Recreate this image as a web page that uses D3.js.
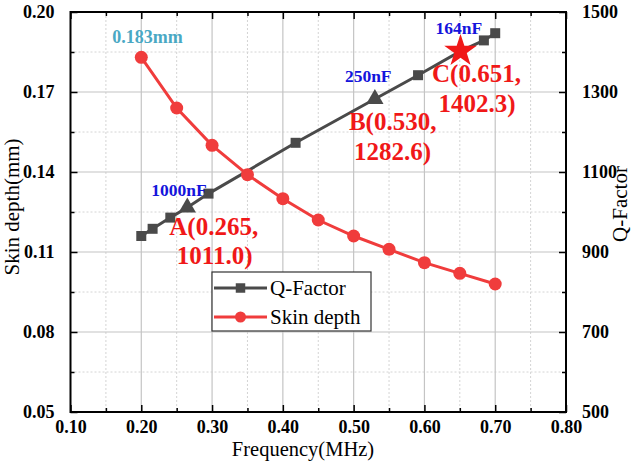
<!DOCTYPE html>
<html>
<head>
<meta charset="utf-8">
<script src="https://cdn.jsdelivr.net/npm/d3@7"></script>
<style>
  html, body { margin: 0; padding: 0; background: #fff; }
  svg { display: block; }
  text { font-family: "Liberation Serif", "Times New Roman", serif; }
</style>
</head>
<body>
<svg id="chart" width="633" height="467"></svg>
<script>
// ---- Data ----
const skinFreq = [0.20, 0.25, 0.30, 0.35, 0.40, 0.45, 0.50, 0.55, 0.60, 0.65, 0.70];
const skinDepth = [0.183, 0.164, 0.150, 0.139, 0.130, 0.122, 0.116, 0.111, 0.106, 0.102, 0.098];
const qFreq = [0.200, 0.216, 0.241, 0.265, 0.295, 0.418, 0.530, 0.591, 0.651, 0.684, 0.700];
const qFactor = [940, 958, 986, 1011.0, 1046, 1173, 1282.6, 1342, 1402.3, 1429, 1447];
const qMarker = ["square", "square", "square", "triangle", "square", "square", "triangle", "square", "star", "square", "square"];
const xTicks = [0.10, 0.20, 0.30, 0.40, 0.50, 0.60, 0.70, 0.80];
const yLeftTicks = [0.05, 0.08, 0.11, 0.14, 0.17, 0.20];
const yRightTicks = [500, 700, 900, 1100, 1300, 1500];
const seriesNames = ["Q-Factor", "Skin depth"];
const pointLabels = [
  { name: "A", x: 0.265, y: 1011.0, cap: "1000nF" },
  { name: "B", x: 0.530, y: 1282.6, cap: "250nF" },
  { name: "C", x: 0.651, y: 1402.3, cap: "164nF" }
];
const skinLabel = "0.183mm";

// ---- Layout ----
const L = 70.5, R = 566, T = 12, B = 412;
const svg = d3.select("#chart");
const x = d3.scaleLinear().domain([0.10, 0.80]).range([L, R]);
const yL = d3.scaleLinear().domain([0.05, 0.20]).range([B, T]);
const yR = d3.scaleLinear().domain([500, 1500]).range([B, T]);

const grayC = "#4a4a4a", redC = "#f03c3c";

// grid
const g = svg.append("g");
const xMinor = d3.range(0.15, 0.80, 0.1);
const yMinor = d3.range(0.065, 0.20, 0.03);
g.selectAll(".gxm").data(xMinor).join("line")
  .attr("x1", d => x(d)).attr("x2", d => x(d)).attr("y1", T).attr("y2", B)
  .attr("stroke", "#d4d4d4").attr("stroke-width", 1).attr("stroke-dasharray", "2,2");
g.selectAll(".gym").data(yMinor).join("line")
  .attr("y1", d => yL(d)).attr("y2", d => yL(d)).attr("x1", L).attr("x2", R)
  .attr("stroke", "#d4d4d4").attr("stroke-width", 1).attr("stroke-dasharray", "2,2");
g.selectAll(".gx").data(xTicks.slice(1, -1)).join("line")
  .attr("x1", d => x(d)).attr("x2", d => x(d)).attr("y1", T).attr("y2", B)
  .attr("stroke", "#c4c4c4").attr("stroke-width", 1.2);
g.selectAll(".gy").data(yLeftTicks.slice(1, -1)).join("line")
  .attr("y1", d => yL(d)).attr("y2", d => yL(d)).attr("x1", L).attr("x2", R)
  .attr("stroke", "#c4c4c4").attr("stroke-width", 1.2);

// axes (inward ticks)
const fmt2 = d3.format(".2f");
function styleAxis(sel) {
  sel.select(".domain").remove();
  sel.selectAll(".tick line").attr("stroke", "#000").attr("stroke-width", 1.5);
  sel.selectAll(".tick text").attr("font-family", "Liberation Serif, serif")
    .attr("font-weight", "bold").attr("font-size", 18).attr("fill", "#000");
}
svg.append("g").attr("transform", `translate(0,${B})`)
  .call(d3.axisBottom(x).tickValues(xTicks).tickFormat(fmt2).tickSizeInner(-7).tickSizeOuter(0).tickPadding(8))
  .call(styleAxis);
svg.append("g").attr("transform", `translate(0,${B})`)
  .call(d3.axisBottom(x).tickValues(xMinor).tickFormat("").tickSizeInner(-4).tickSizeOuter(0))
  .call(styleAxis);
svg.append("g").attr("transform", `translate(0,${T})`)
  .call(d3.axisTop(x).tickValues(xTicks).tickFormat("").tickSizeInner(-7).tickSizeOuter(0))
  .call(styleAxis);
svg.append("g").attr("transform", `translate(0,${T})`)
  .call(d3.axisTop(x).tickValues(xMinor).tickFormat("").tickSizeInner(-4).tickSizeOuter(0))
  .call(styleAxis);
svg.append("g").attr("transform", `translate(${L},0)`)
  .call(d3.axisLeft(yL).tickValues(yLeftTicks).tickFormat(fmt2).tickSizeInner(-7).tickSizeOuter(0).tickPadding(16))
  .call(styleAxis);
svg.append("g").attr("transform", `translate(${L},0)`)
  .call(d3.axisLeft(yL).tickValues(yMinor).tickFormat("").tickSizeInner(-4).tickSizeOuter(0))
  .call(styleAxis);
svg.append("g").attr("transform", `translate(${R},0)`)
  .call(d3.axisRight(yR).tickValues(yRightTicks).tickFormat(d3.format("d")).tickSizeInner(-7).tickSizeOuter(0).tickPadding(16))
  .call(styleAxis);
svg.append("g").attr("transform", `translate(${R},0)`)
  .call(d3.axisRight(yR).tickValues(d3.range(600, 1500, 200)).tickFormat("").tickSizeInner(-4).tickSizeOuter(0))
  .call(styleAxis);

// frame
svg.append("rect").attr("x", L).attr("y", T).attr("width", R - L).attr("height", B - T)
  .attr("fill", "none").attr("stroke", "#000").attr("stroke-width", 2);

// axis titles
svg.append("text").attr("x", 303).attr("y", 456).attr("text-anchor", "middle")
  .attr("font-size", 20.5).text("Frequency(MHz)");
svg.append("text").attr("transform", "translate(19,207) rotate(-90)").attr("text-anchor", "middle")
  .attr("font-size", 21).text("Skin depth(mm)");
svg.append("text").attr("transform", "translate(627,204) rotate(-90)").attr("text-anchor", "middle")
  .attr("font-size", 21).text("Q-Factor");

// Q-factor line
const qData = qFreq.map((f, i) => ({ f, q: qFactor[i], m: qMarker[i] }));
svg.append("path").datum(qData)
  .attr("d", d3.line().x(d => x(d.f)).y(d => yR(d.q)))
  .attr("fill", "none").attr("stroke", grayC).attr("stroke-width", 3);

// Skin depth line
const sData = skinFreq.map((f, i) => ({ f, s: skinDepth[i] }));
svg.append("path").datum(sData)
  .attr("d", d3.line().x(d => x(d.f)).y(d => yL(d.s)))
  .attr("fill", "none").attr("stroke", redC).attr("stroke-width", 3);
svg.selectAll(".sdot").data(sData).join("circle")
  .attr("cx", d => x(d.f)).attr("cy", d => yL(d.s)).attr("r", 6.5).attr("fill", redC);

// Q markers
const symMap = { square: d3.symbolSquare, triangle: d3.symbolTriangle, star: d3.symbolStar };
const sizeMap = { square: 100, triangle: 130, star: 330 };
svg.selectAll(".qm").data(qData).join("path")
  .attr("transform", d => `translate(${x(d.f)},${yR(d.q)})`)
  .attr("d", d => d3.symbol().type(symMap[d.m]).size(sizeMap[d.m])())
  .attr("fill", d => d.m === "star" ? "#f01818" : grayC);

// point labels
const fmtX = d3.format(".3f"), fmtY = d3.format(".1f");
const offs = [
  { cap: [-36, -11.5], l1: [-18, 27.5], l2: [-10.5, 56] },
  { cap: [-30, -17], l1: [-26, 31], l2: [-21, 61] },
  { cap: [-25, -17], l1: [-28.5, 30.5], l2: [-22, 60.5] }
];
pointLabels.forEach((p, i) => {
  const px = x(p.x), py = yR(p.y), o = offs[i];
  svg.append("text").attr("x", px + o.cap[0]).attr("y", py + o.cap[1])
    .attr("font-size", 17.5).attr("font-weight", "bold").attr("fill", "#1414dc").text(p.cap);
  svg.append("text").attr("x", px + o.l1[0]).attr("y", py + o.l1[1])
    .attr("font-size", 25).attr("font-weight", "bold").attr("fill", "#f01818")
    .text(`${p.name}(${fmtX(p.x)},`);
  svg.append("text").attr("x", px + o.l2[0]).attr("y", py + o.l2[1])
    .attr("font-size", 25).attr("font-weight", "bold").attr("fill", "#f01818")
    .text(`${fmtY(p.y)})`);
});
svg.append("text").attr("x", x(skinFreq[0]) - 29).attr("y", yL(skinDepth[0]) - 14)
  .attr("font-size", 18).attr("font-weight", "bold").attr("fill", "#4aa8c4").text(skinLabel);

// legend
const lg = svg.append("g");
lg.append("rect").attr("x", 212).attr("y", 272).attr("width", 159).attr("height", 59)
  .attr("fill", "#fff").attr("stroke", "#333").attr("stroke-width", 1.2);
const legendColors = [grayC, redC];
seriesNames.forEach((n, i) => {
  const yy = 288 + i * 29;
  lg.append("line").attr("x1", 214).attr("x2", 267).attr("y1", yy).attr("y2", yy)
    .attr("stroke", legendColors[i]).attr("stroke-width", 3);
  if (i === 0) {
    lg.append("path").attr("transform", `translate(240.5,${yy})`)
      .attr("d", d3.symbol().type(d3.symbolSquare).size(90)()).attr("fill", grayC);
  } else {
    lg.append("circle").attr("cx", 240.5).attr("cy", yy).attr("r", 5.5).attr("fill", redC);
  }
  lg.append("text").attr("x", 270).attr("y", yy + 7).attr("font-size", 21).text(n);
});
</script>
</body>
</html>
